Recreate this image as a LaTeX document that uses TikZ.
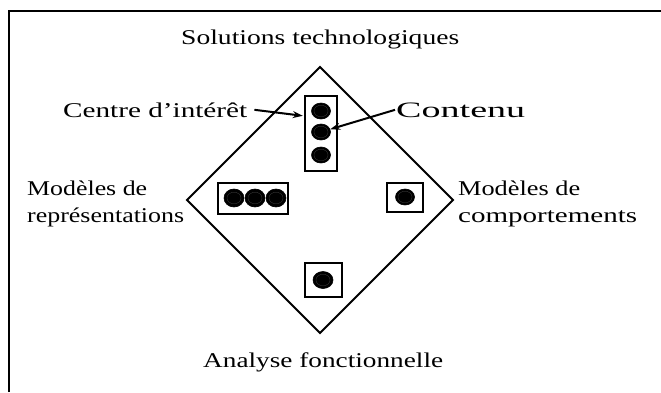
\documentclass[tikz,border=0pt]{standalone}
\usepackage{fontspec}
\setmainfont{Liberation Serif}
\usetikzlibrary{arrows.meta,shapes.geometric,calc}
\begin{document}
\begin{tikzpicture}[x=1pt,y=-1pt,
  outline/.style={line width=2.4pt},
  edge/.style={line width=2pt, line join=miter},
  holder/.style={draw, line width=2.4pt, inner sep=0pt},
  dot/.style={ellipse, inner sep=0pt, minimum width=19pt, minimum height=16pt,
    fill=black, draw=black, line width=0.6pt,
    path picture={\draw[gray!45!black, line width=0.35pt]
      (path picture bounding box.center) ellipse [x radius=7pt, y radius=5.8pt];}},
  lbl/.style={inner sep=0pt, anchor=base west, font=\fontsize{21}{25}\selectfont},
  arr/.style={line width=2pt, -{Stealth[length=10pt, width=7pt]}}
]
\useasboundingbox (0,0) rectangle (661,392);

% outer frame (only the top and left edges fall inside the page)
\draw[outline] (9,392) -- (9,11) -- (661,11);

% the diamond
\coordinate (dT) at (320,67);
\coordinate (dR) at (453,200);
\coordinate (dB) at (320,333);
\coordinate (dL) at (187,200);
\draw[edge] (dT) -- (dR) -- (dB) -- (dL) -- cycle;

% vertical holder with three dots
\node[holder, minimum width=32pt, minimum height=75pt] (vbox) at (321,133.5) {};
\node[dot] (c1) at (321,111) {};
\node[dot] (c2) at (321,132) {};
\node[dot] (c3) at (321,155) {};

% horizontal holder with three dots
\node[holder, minimum width=70pt, minimum height=31pt] (hbox) at (253,198.5) {};
\node[dot, minimum width=20pt, minimum height=18pt] (h1) at (234,198) {};
\node[dot, minimum width=20pt, minimum height=18pt] (h2) at (255,198) {};
\node[dot, minimum width=20pt, minimum height=18pt] (h3) at (276,198) {};

% right holder
\node[holder, minimum width=36pt, minimum height=29pt] (rbox) at (405,197.5) {};
\node[dot] (r1) at (405,197) {};

% bottom holder
\node[holder, minimum width=37pt, minimum height=34pt] (bbox) at (323.5,280) {};
\node[dot, minimum width=20pt, minimum height=17pt] (b1) at (323,280) {};

% labels
\node[lbl] (sol) at (181,44) {\resizebox{278pt}{\height}{Solutions technologiques}};
\node[lbl] (centre) at (63,117) {\resizebox{184pt}{\height}{Centre d’intérêt}};
\node[lbl, font=\fontsize{22}{26}\selectfont] (cont) at (396,117) {\resizebox{129pt}{\height}{Contenu}};
\node[lbl] (repA) at (27,195) {\resizebox{120pt}{\height}{Modèles de}};
\node[lbl] (repB) at (27,222) {\resizebox{157pt}{\height}{représentations}};
\node[lbl] (comA) at (458,195) {\resizebox{122pt}{\height}{Modèles de}};
\node[lbl] (comB) at (458,222) {\resizebox{179pt}{\height}{comportements}};
\node[lbl] (ana) at (203,367) {\resizebox{240pt}{\height}{Analyse fonctionnelle}};

% pointers
\draw[arr] ([xshift=7pt]centre.east) -- ($(vbox.north west)+(-1,21)$);
\draw[arr] ([xshift=-1pt]cont.west) -- (c2);
\end{tikzpicture}
\end{document}
